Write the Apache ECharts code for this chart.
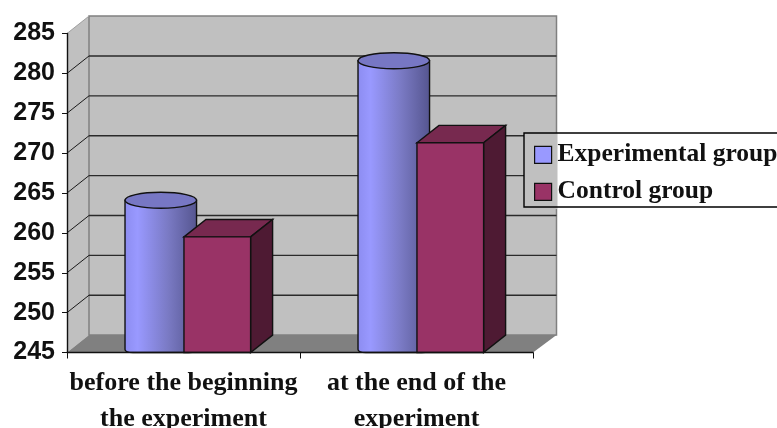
<!DOCTYPE html>
<html>
<head>
<meta charset="utf-8">
<style>html,body{margin:0;padding:0;background:#fff;overflow:hidden}#c{width:777px;height:428px}</style>
<script src="https://cdn.jsdelivr.net/npm/echarts@6/dist/echarts.min.js"></script>
</head>
<body>
<div id="c"></div>
<script>
const categories = ['before the beginning\nthe experiment', 'at the end of the\nexperiment'];
const experimental = [263, 280.5];
const control = [259.5, 271.3];
const yTicks = [245, 250, 255, 260, 265, 270, 275, 280, 285];
const yMin = 245, yMax = 285, yStep = 5;

// Oblique projection of the pseudo-3D box
const DX = 22, DY = 17.4, RIGHT_EXTRA = 1.5;
const serif = '"Liberation Serif"';

// Back wall, side wall, floor and the gridlines that wrap round them
function renderWalls(params, api) {
  const cs = params.coordSys;
  const l = cs.x, r = cs.x + cs.width, b = cs.y + cs.height, t = cs.y;
  const backR = r + DX + RIGHT_EXTRA;
  const kids = [
    {type:'polygon', shape:{points:[[l,t],[l+DX,t-DY],[l+DX,b-DY],[l,b]]}, style:{fill:'#c0c0c0'}},
    {type:'rect', shape:{x:l+DX,y:t-DY,width:backR-l-DX,height:cs.height}, style:{fill:'#c0c0c0',stroke:'#808080',lineWidth:1.5}},
    {type:'polygon', shape:{points:[[l,b],[l+DX,b-DY],[backR,b-DY],[r,b]]}, style:{fill:'#808080'}}
  ];
  yTicks.forEach(v => {
    const y = api.coord([0, v])[1];
    if (v > yMin && v < yMax) {
      kids.push({type:'line', shape:{x1:l+DX,y1:y-DY,x2:backR,y2:y-DY}, style:{stroke:'#2a2a2a',lineWidth:1.4}});
    }
    if (v > yMin) {
      kids.push({type:'line', shape:{x1:l,y1:y,x2:l+DX,y2:y-DY},
        style:{stroke: v === yMax ? '#a0a0a0' : '#1a1a1a',lineWidth:1}});
    }
  });
  return {type:'group', children:kids};
}

function renderCylinder(params, api) {
  const band = api.size([1, 0])[0];
  const cx = api.coord([api.value(0), yMin])[0];
  const base = api.coord([api.value(0), yMin])[1];
  const top = api.coord([api.value(0), api.value(1)])[1];
  const x0 = cx - band * 0.251, w = band * 0.307;
  const rx = w / 2, ry = 8, mid = x0 + rx;
  const yt = top - DY / 2;
  const body = `M${x0} ${yt}L${x0} ${base-3}Q${x0} ${base} ${x0+8} ${base}L${x0+w-8} ${base}Q${x0+w} ${base} ${x0+w} ${base-3}L${x0+w} ${yt}Z`;
  return {type:'group', children:[
    {type:'path', shape:{pathData:body,x:x0,y:yt,width:w,height:base-yt}, style:{
      fill:{type:'linear',x:0,y:0,x2:1,y2:0,colorStops:[
        {offset:0,color:'#8c8cf0'},{offset:0.18,color:'#9999ff'},{offset:0.6,color:'#7a7ac4'},{offset:1,color:'#55558f'}]},
      stroke:'#111',lineWidth:1.4}},
    {type:'ellipse', shape:{cx:mid,cy:yt,rx:rx,ry:ry}, style:{fill:'#7777c4',stroke:'#111',lineWidth:1.4}}
  ]};
}

function renderBox(params, api) {
  const band = api.size([1, 0])[0];
  const cx = api.coord([api.value(0), yMin])[0];
  const b = api.coord([api.value(0), yMin])[1];
  const t = api.coord([api.value(0), api.value(1)])[1];
  const x0 = cx + band * 0.002, x1 = x0 + band * 0.286;
  const line = {stroke:'#111', lineWidth:1.4};
  return {type:'group', children:[
    {type:'polygon', shape:{points:[[x0,t],[x0+DX,t-DY],[x1+DX,t-DY],[x1,t]]}, style:{fill:'#77294f',...line}},
    {type:'polygon', shape:{points:[[x1,t],[x1+DX,t-DY],[x1+DX,b-DY],[x1,b]]}, style:{fill:'#4e1a33',...line}},
    {type:'rect', shape:{x:x0,y:t,width:x1-x0,height:b-t}, style:{fill:'#993366',...line}}
  ]};
}

const chart = echarts.init(document.getElementById('c'), null, {renderer:'canvas'});
chart.setOption({
  animation:false,
  backgroundColor:'#fff',
  grid:{left:67, top:33.5, width:466, height:319, outerBoundsMode:'none'},
  xAxis:{type:'category', data:categories, z:3,
    axisLine:{lineStyle:{color:'#111',width:1.4}},
    axisTick:{show:true,length:6,lineStyle:{color:'#111',width:1}},
    axisLabel:{interval:0,margin:13,fontFamily:serif,fontWeight:'bold',fontSize:26,lineHeight:36,color:'#111'}},
  yAxis:{type:'value', min:yMin, max:yMax, interval:yStep, z:3,
    axisLine:{show:true,lineStyle:{color:'#111',width:1.4}},
    axisTick:{show:true,length:5,lineStyle:{color:'#111',width:1}},
    splitLine:{show:false},
    axisLabel:{margin:12,fontFamily:'"Liberation Sans"',fontWeight:'bold',fontSize:25,color:'#111'}},
  legend:{orient:'vertical', left:524, top:133, padding:[8.8,24,2.2,10], itemWidth:17, itemHeight:17, itemGap:11,
    borderColor:'#000', borderWidth:1.4, align:'left', z:5,
    textStyle:{fontFamily:serif,fontWeight:'bold',fontSize:25.5,lineHeight:17,color:'#111',padding:[0,0,0,1]},
    itemStyle:{borderColor:'#111',borderWidth:1.2},
    data:[{name:'Experimental group',icon:'rect'},{name:'Control group',icon:'rect'}]},
  graphic:[{type:'rect',z:4,silent:true,shape:{x:524,y:133,width:33,height:76},style:{fill:'#c0c0c0'}}],
  series:[
    {type:'custom',name:'walls',coordinateSystem:'cartesian2d',z:1,silent:true,clip:false,renderItem:renderWalls,data:[[0,yMin]]},
    {type:'custom',name:'Experimental group',coordinateSystem:'cartesian2d',z:2,clip:false,renderItem:renderCylinder,
      itemStyle:{color:'#9999ff'},encode:{x:0,y:1},data:experimental.map((v,i)=>[i,v])},
    {type:'custom',name:'Control group',coordinateSystem:'cartesian2d',z:2,clip:false,renderItem:renderBox,
      itemStyle:{color:'#993366'},encode:{x:0,y:1},data:control.map((v,i)=>[i,v])}
  ]
});
</script>
</body>
</html>
